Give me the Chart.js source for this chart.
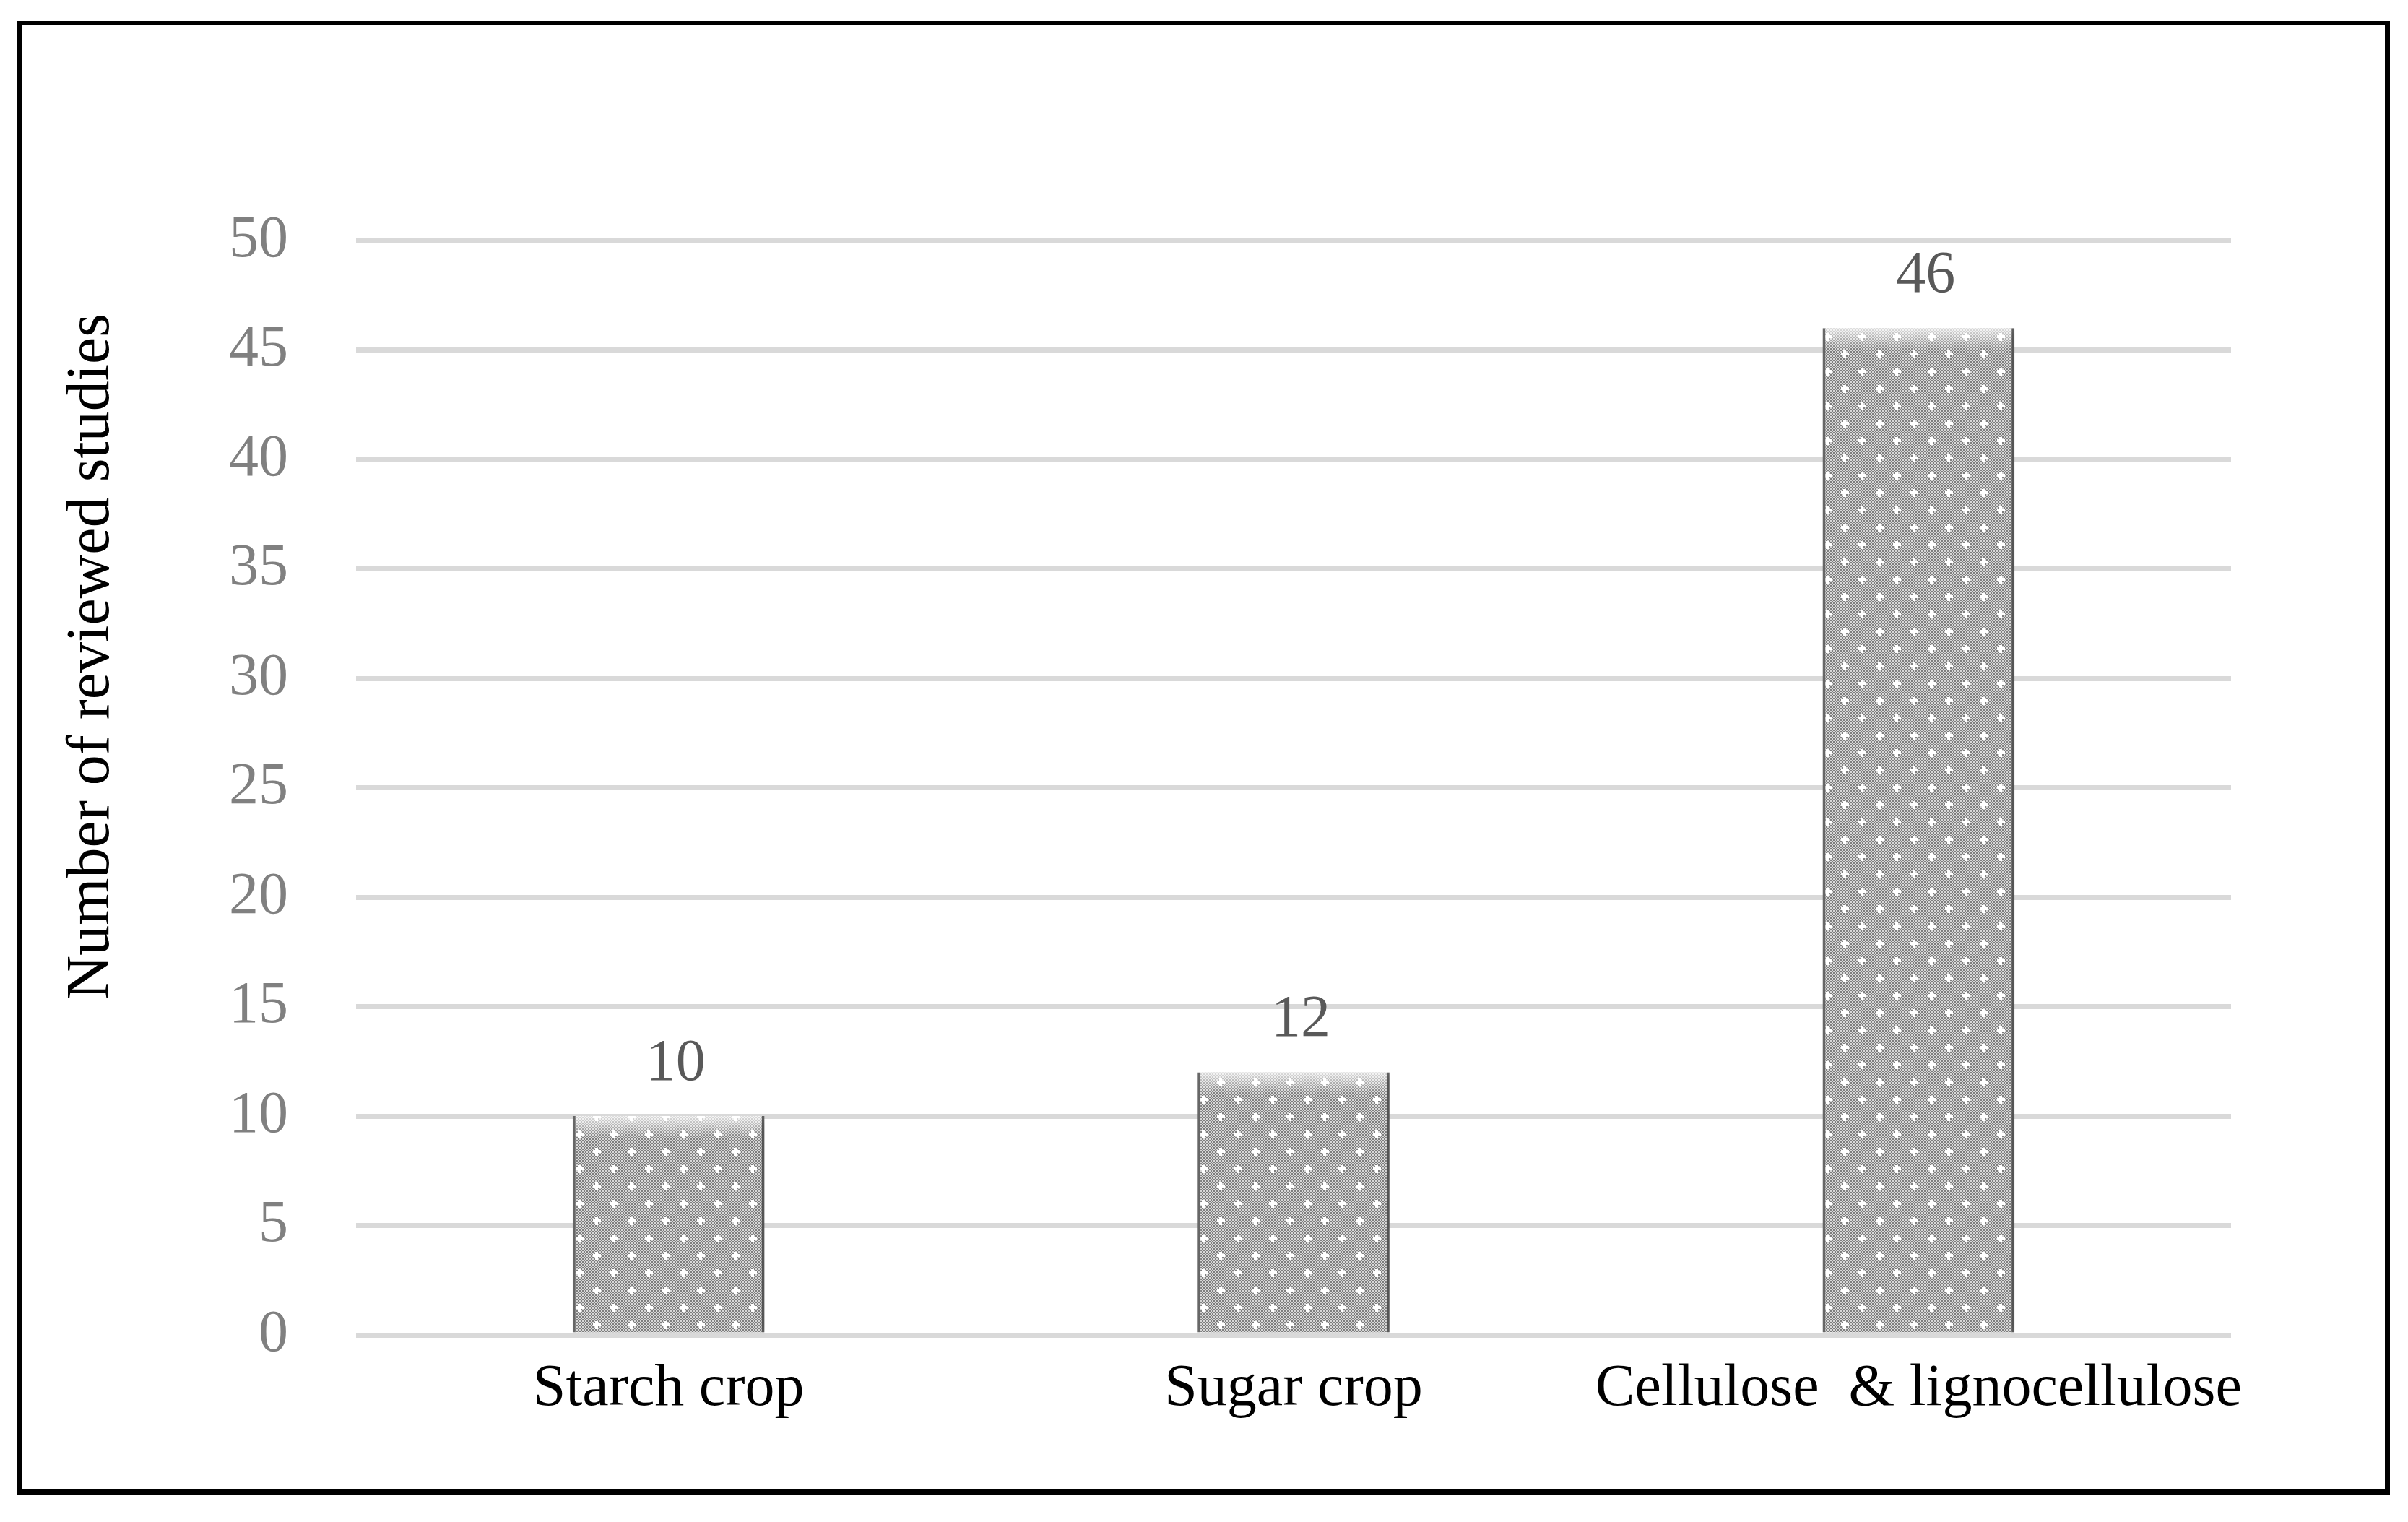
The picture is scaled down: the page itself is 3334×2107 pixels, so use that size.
<!DOCTYPE html>
<html>
<head>
<meta charset="utf-8">
<script src="https://cdn.jsdelivr.net/npm/chart.js@4.4.0/dist/chart.umd.min.js"></script>
<style>
  html, body { margin: 0; padding: 0; background: #fff; }
  #wrap { position: relative; width: 3334px; height: 2107px; }
  #frame {
    position: absolute; left: 23px; top: 29px;
    width: 3272px; height: 2028px;
    border-style: solid; border-color: #000;
    border-width: 5px 7px 7px 7px;
    pointer-events: none;
  }
  canvas { position: absolute; left: 0; top: 0; }
</style>
</head>
<body>
<div id="wrap">
  <canvas id="studiesChart" width="3334" height="2107"></canvas>
  <div id="frame"></div>
</div>
<script>
// feedstock categories and number of studies
const categories = ["Starch crop", "Sugar crop", "Cellulose  & lignocellulose"];
const studyCounts = [10, 12, 46];

// y axis
const yMin = 0;
const yMax = 50;
const yStep = 5;
const yTitle = "Number of reviewed studies";

const FONT = "'Liberation Serif', 'Times New Roman', serif";

// dotted grey fill like the original bars
function makeBarPattern() {
  const tile = document.createElement("canvas");
  tile.width = 48;
  tile.height = 48;
  const c = tile.getContext("2d");
  c.fillStyle = "#d8d8d8";
  c.fillRect(0, 0, 48, 48);
  c.fillStyle = "#7e7e7e";
  for (let y = 0; y < 48; y += 2) {
    for (let x = (y % 4 === 0) ? 0 : 2; x < 48; x += 4) {
      c.fillRect(x, y, 2, 2);
    }
  }
  c.fillStyle = "#ffffff";
  [[10, 10], [34, 34]].forEach(([px, py]) => {
    c.fillRect(px - 2, py - 5, 4, 11);
    c.fillRect(px - 5, py - 2, 11, 4);
  });
  return c.createPattern(tile, "repeat");
}

// soft shadow behind bars, plus top highlight and value labels
const barShadow = {
  id: "barShadow",
  beforeDatasetsDraw(chart) {
    const ctx = chart.ctx;
    ctx.save();
    ctx.shadowColor = "rgba(0,0,0,0.28)";
    ctx.shadowBlur = 14;
    ctx.shadowOffsetX = 6;
    ctx.shadowOffsetY = 2;
  },
  afterDatasetsDraw(chart) {
    const ctx = chart.ctx;
    ctx.restore();

    const meta = chart.getDatasetMeta(0);
    meta.data.forEach((bar, i) => {
      const half = bar.width / 2;
      const g = ctx.createLinearGradient(0, bar.y, 0, bar.y + 30);
      g.addColorStop(0, "rgba(255,255,255,0.75)");
      g.addColorStop(1, "rgba(255,255,255,0)");
      ctx.fillStyle = g;
      ctx.fillRect(bar.x - half + 4, bar.y, bar.width - 8, 30);

      ctx.save();
      ctx.fillStyle = "#595959";
      ctx.font = "82px " + FONT;
      ctx.textAlign = "center";
      ctx.textBaseline = "alphabetic";
      ctx.fillText(String(studyCounts[i]), bar.x + 10, bar.y - 50);
      ctx.restore();
    });
  },
};

// y axis title, sits a bit above the middle like the original
const axisTitle = {
  id: "axisTitle",
  afterDraw(chart) {
    const ctx = chart.ctx;
    const area = chart.chartArea;
    ctx.save();
    ctx.translate(chart.scales.y.left + 128, area.top + area.height * 0.38);
    ctx.rotate(-Math.PI / 2);
    ctx.fillStyle = "#000";
    ctx.font = "84px " + FONT;
    ctx.textAlign = "center";
    ctx.textBaseline = "middle";
    ctx.fillText(yTitle, 0, 0);
    ctx.restore();
  },
};

const canvas = document.getElementById("studiesChart");

new Chart(canvas.getContext("2d"), {
  type: "bar",
  data: {
    labels: categories,
    datasets: [
      {
        label: yTitle,
        data: studyCounts,
        backgroundColor: makeBarPattern(),
        borderColor: "#6a6a6a",
        borderWidth: { left: 4, right: 4, top: 0, bottom: 0 },
        borderSkipped: false,
        categoryPercentage: 1,
        barPercentage: 0.307,
      },
    ],
  },
  options: {
    responsive: false,
    animation: false,
    devicePixelRatio: 1,
    layout: { padding: { top: 333, right: 245, bottom: 0, left: 0 } },
    plugins: {
      legend: { display: false },
      tooltip: { enabled: false },
      title: { display: false },
    },
    scales: {
      x: {
        grid: { display: false, drawTicks: false },
        border: { display: false },
        ticks: {
          color: "#000",
          font: { family: FONT, size: 82 },
          padding: 26,
          maxRotation: 0,
          autoSkip: false,
        },
        afterFit(s) { s.height = 259; },
      },
      y: {
        min: yMin,
        max: yMax,
        grid: { color: "#d9d9d9", lineWidth: 7, drawTicks: false },
        border: { display: false },
        ticks: {
          stepSize: yStep,
          color: "#808080",
          font: { family: FONT, size: 82 },
          padding: 94,
        },
        afterFit(s) { s.width = 493; },
      },
    },
  },
  plugins: [barShadow, axisTitle],
});
</script>
</body>
</html>
